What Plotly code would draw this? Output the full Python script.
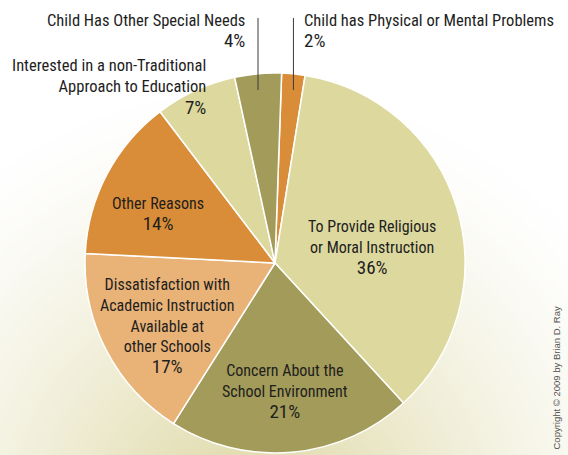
import math, zlib, struct, base64
import numpy as np
import plotly.graph_objects as go

# ---- data ----
labels = ["Child has Physical or Mental Problems",
          "To Provide Religious or Moral Instruction",
          "Concern About the School Environment",
          "Dissatisfaction with Academic Instruction Available at other Schools",
          "Other Reasons",
          "Interested in a non-Traditional Approach to Education",
          "Child Has Other Special Needs"]
values = [2, 36, 21, 17, 14, 7, 4]
pct_text = ["2%", "36%", "21%", "17%", "14%", "7%", "4%"]
colors = ["#DA8D38", "#DDD99E", "#A39B59", "#E9B378", "#DA8D38", "#DDD99E", "#A39B59"]

W, H = 568, 455
CX, CY, R = 275, 263, 190
ROT = 2

# ---- radial gradient background as png ----
def make_png(w, h):
    yy, xx = np.mgrid[0:h, 0:w].astype(float)
    d = np.sqrt((xx - 250) ** 2 + (yy - 520) ** 2)
    t = np.clip(1 - d / 430, 0, 1) ** 1.3
    cream = np.array([220, 214, 160], float)
    img = 255 + t[..., None] * (cream - 255)
    img = np.clip(img, 0, 255).astype(np.uint8)
    raw = b"".join(b"\x00" + img[r].tobytes() for r in range(h))
    def chunk(tag, data):
        c = struct.pack(">I", len(data)) + tag + data
        return c + struct.pack(">I", zlib.crc32(tag + data) & 0xffffffff)
    png = b"\x89PNG\r\n\x1a\n" + chunk(b"IHDR", struct.pack(">IIBBBBB", w, h, 8, 2, 0, 0, 0)) \
        + chunk(b"IDAT", zlib.compress(raw, 9)) + chunk(b"IEND", b"")
    return "data:image/png;base64," + base64.b64encode(png).decode()

def px(x):
    return x / W
def py(y):
    return 1 - y / H

fig = go.Figure(go.Pie(
    labels=labels, values=values, sort=False, direction="clockwise", rotation=ROT,
    marker=dict(colors=colors, line=dict(color="white", width=1.5)),
    textinfo="none", hoverinfo="none", showlegend=False,
    domain=dict(x=[px(CX - R), px(CX + R)], y=[py(CY + R), py(CY - R)]),
))

FONT = "Roboto Condensed, DejaVu Sans Condensed, sans-serif"
TC = "#1e1e1e"
PFS = 19

def ann(lines, pct, x, y, fs, xa="center", align="center"):
    text = "<br>".join(lines + ['<span style="font-size:%dpx">%s</span>' % (PFS, pct)])
    return dict(text=text, x=px(x), y=py(y), xref="paper", yref="paper",
                xanchor=xa, yanchor="middle", align=align, showarrow=False,
                font=dict(family=FONT, size=fs, color=TC))

annotations = [
    ann(["To Provide Religious", "or Moral Instruction"], pct_text[1], 372, 248, 16),
    ann(["Concern About the", "School Environment"], pct_text[2], 285, 392, 16),
    ann(["Dissatisfaction with", "Academic Instruction", "Available at", "other Schools"],
        pct_text[3], 167, 326, 16),
    ann(["Other Reasons"], pct_text[4], 158, 214, 16),
    ann(["Interested in a non-Traditional", "Approach to Education"], pct_text[5], 208, 87, 16.5,
        "right", "right"),
    ann(["Child Has Other Special Needs"], pct_text[6], 247, 32, 16.5, "right", "right"),
    ann(["Child has Physical or Mental Problems"], pct_text[0], 302, 32, 16.5, "left", "left"),
    dict(text="Copyright © 2009 by Brian D. Ray", x=px(556), y=py(452), xref="paper", yref="paper",
         xanchor="center", yanchor="bottom", textangle=-90, showarrow=False,
         font=dict(family="Liberation Sans, Arial, sans-serif", size=9.5, color="#555555")),
]

# leader lines at mid-angles of the two small slices
total = sum(values)
shapes = []
cum = 0
mids = {}
for i, v in enumerate(values):
    mids[i] = ROT + (cum + v / 2) / total * 360
    cum += v
for i in (0, 6):
    ang = math.radians(mids[i])
    lx = CX + R * math.sin(ang)
    shapes.append(dict(type="line", xref="paper", yref="paper",
                       x0=px(lx), x1=px(lx), y0=py(18), y1=py(90),
                       line=dict(color="#3a3a3a", width=1)))

fig.update_layout(
    width=W, height=H, margin=dict(l=0, r=0, t=0, b=0),
    paper_bgcolor="white", plot_bgcolor="white",
    annotations=annotations, shapes=shapes,
    images=[dict(source=make_png(W, H), xref="paper", yref="paper", x=0, y=1,
                 sizex=1, sizey=1, sizing="stretch", xanchor="left", yanchor="top",
                 layer="below")],
)

fig.write_html("out.html", config={"displayModeBar": False},
               post_script="document.body.style.margin='0';document.body.style.padding='0';")
